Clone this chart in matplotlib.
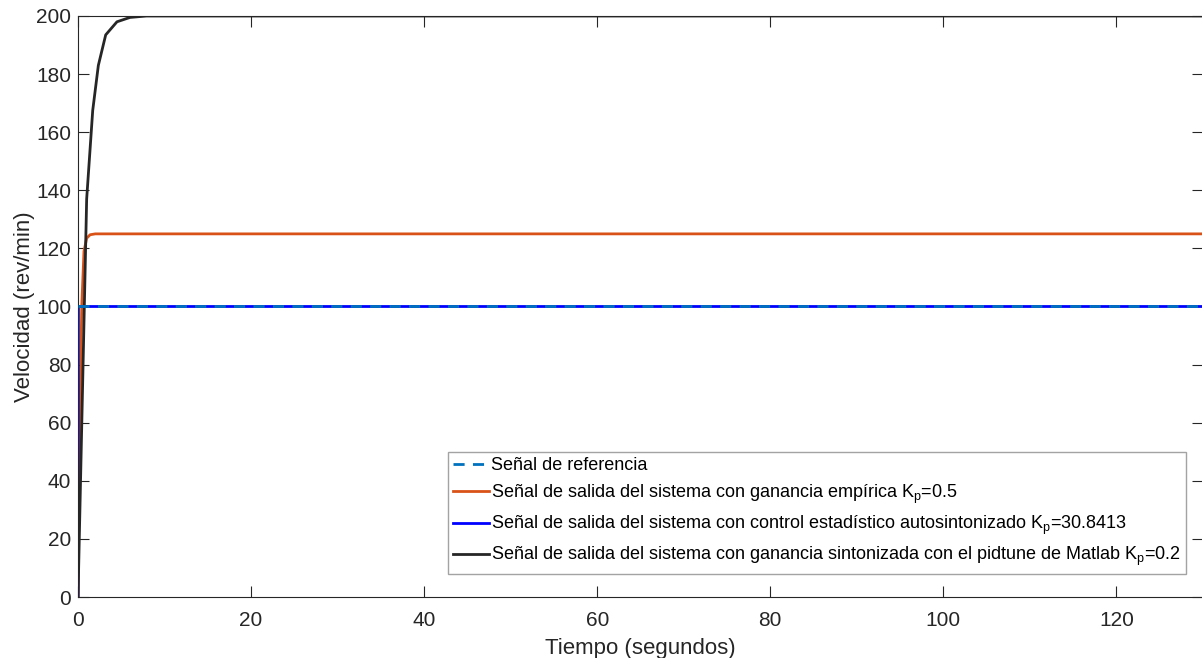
import numpy as np
import matplotlib
matplotlib.use("Agg")
import matplotlib.pyplot as plt

plt.rcParams['font.family'] = ['Liberation Sans', 'DejaVu Sans']
plt.rcParams['mathtext.fontset'] = 'custom'
plt.rcParams['mathtext.rm'] = 'Liberation Sans'
plt.rcParams['mathtext.it'] = 'Liberation Sans'
plt.rcParams['mathtext.default'] = 'regular'

# Data
t_ref = [0, 130]
y_ref = [100, 100]

t_emp = [0, 0.15, 0.43, 0.69, 1.0, 1.4, 2.0, 130]
y_emp = [0, 50, 100, 119, 123.5, 124.7, 125, 125]

t_auto = [0, 0.05, 130]
y_auto = [0, 100, 100]

t_pid = [0, 1.0, 1.7, 2.35, 3.2, 4.5, 6.0, 7.9, 130]
y_pid = [0, 137, 167.5, 183, 193.5, 198, 199.5, 200, 200]

labels = [
    "Señal de referencia",
    "Señal de salida del sistema con ganancia empírica K$_p$=0.5",
    "Señal de salida del sistema con control estadístico autosintonizado K$_p$=30.8413",
    "Señal de salida del sistema con ganancia sintonizada con el pidtune de Matlab K$_p$=0.2",
]

fig = plt.figure(figsize=(12.02, 6.58), dpi=100)
ax = fig.add_axes([0.0649, 0.0927, 0.9359, 0.883])

ax.plot(t_ref, y_ref, '--', color='#0072BD', lw=2, dashes=(4, 3), label=labels[0], zorder=4)
ax.plot(t_emp, y_emp, color='#D95319', lw=2, label=labels[1])
ax.plot(t_auto, y_auto, color='#0000FF', lw=2, label=labels[2])
ax.plot(t_pid, y_pid, color='#262626', lw=2, label=labels[3])

ax.set_xlim(0, 130)
ax.set_ylim(0, 200)
ax.set_xticks(np.arange(0, 121, 20))
ax.set_yticks(np.arange(0, 201, 20))
ax.tick_params(direction='in', length=8, width=0.8, top=True, right=True, labelsize=15,
               color='#262626', labelcolor='#262626')
ax.tick_params(axis='x', pad=10)
ax.tick_params(axis='y', pad=5)
for s in ax.spines.values():
    s.set_color('#262626')
    s.set_linewidth(0.8)

ax.set_xlabel("Tiempo (segundos)", fontsize=16, color='#262626', labelpad=6)
ax.set_ylabel("Velocidad (rev/min)", fontsize=16, color='#262626', labelpad=1)

leg = ax.legend(loc='lower right', bbox_to_anchor=(0.9852, 0.04), fontsize=13,
                frameon=True, fancybox=False, handlelength=2.0, handletextpad=0.1,
                labelspacing=0.45, borderpad=0.3, borderaxespad=0)
leg.get_frame().set_edgecolor('#8c8c8c')
leg.get_frame().set_linewidth(1.0)

fig.savefig("out.png", dpi=100)
